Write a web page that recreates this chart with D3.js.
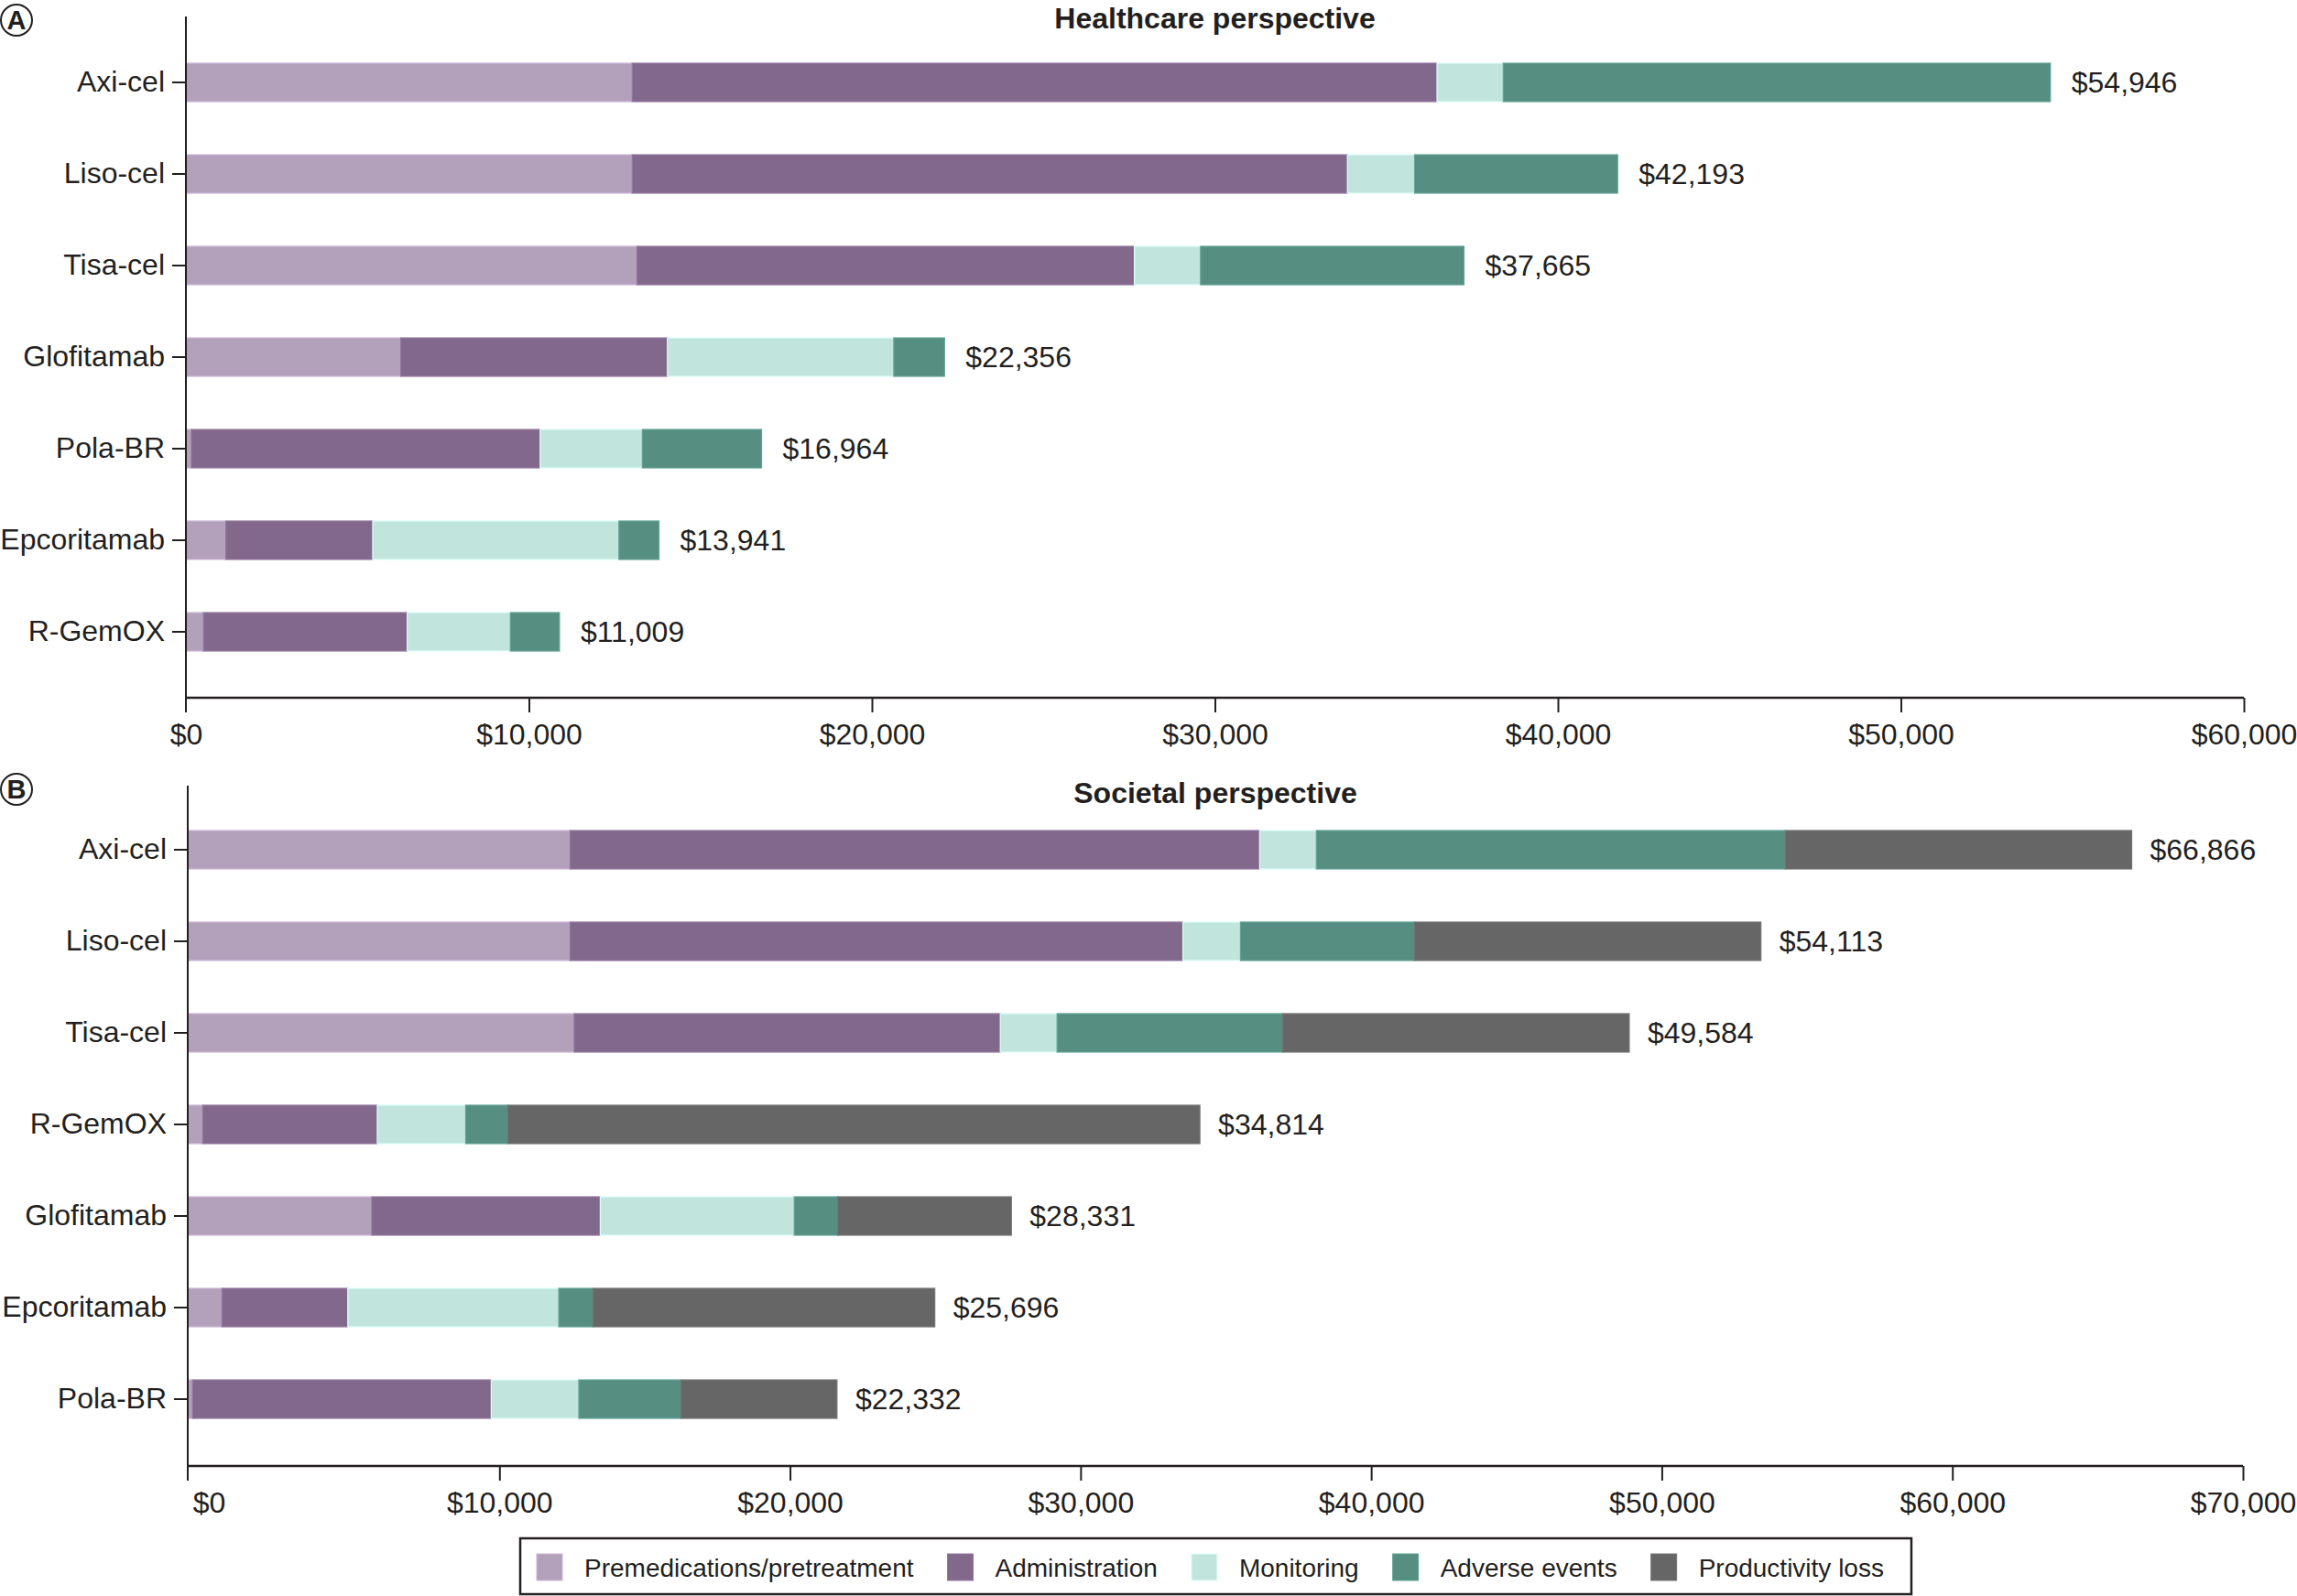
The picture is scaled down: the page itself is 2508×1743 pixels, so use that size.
<!DOCTYPE html>
<html><head><meta charset="utf-8">
<script src="https://cdn.jsdelivr.net/npm/d3@7"></script>
<style>
body{margin:0;background:#fff}
svg{display:block}
text{font-family:"Liberation Sans",Arial,Helvetica,sans-serif;fill:#231f20}
</style>
</head><body>
<svg id="chart" width="2508" height="1743"></svg>
<script>
// ---------- data ----------
const drugs = ["Axi-cel","Liso-cel","Tisa-cel","Glofitamab","Pola-BR","Epcoritamab","R-GemOX"];
const premedications = [13150,13150,13290,6330,160,1175,515];
const administration = [23720,21080,14660,7860,10280,4330,6005];
const monitoring = [1950,1980,1950,6670,3010,7255,3040];
const adverseEvents = [16126,5983,7765,1496,3514,1181,1449];
const productivityLoss = [11920,11920,11919,5975,5368,11755,23805];
const healthcareTotalLabels = ["$54,946","$42,193","$37,665","$22,356","$16,964","$13,941","$11,009"];
const societalTotalLabels = ["$66,866","$54,113","$49,584","$28,331","$22,332","$25,696","$34,814"];
const healthcareOrder = ["Axi-cel","Liso-cel","Tisa-cel","Glofitamab","Pola-BR","Epcoritamab","R-GemOX"];
const societalOrder = ["Axi-cel","Liso-cel","Tisa-cel","R-GemOX","Glofitamab","Epcoritamab","Pola-BR"];
const seriesNames = ["Premedications/pretreatment","Administration","Monitoring","Adverse events","Productivity loss"];
const seriesColors = ["#b3a1bc","#82698c","#c1e4dc","#568f82","#656665"];
const healthcareTicks = [0,10000,20000,30000,40000,50000,60000];
const societalTicks = [0,10000,20000,30000,40000,50000,60000,70000];

// ---------- build rows ----------
const rows = drugs.map((d,i)=>({
  drug:d,
  "Premedications/pretreatment":premedications[i],
  "Administration":administration[i],
  "Monitoring":monitoring[i],
  "Adverse events":adverseEvents[i],
  "Productivity loss":productivityLoss[i],
  hcLabel:healthcareTotalLabels[i],
  socLabel:societalTotalLabels[i]
}));
const byDrug = new Map(rows.map(r=>[r.drug,r]));
const color = d3.scaleOrdinal().domain(seriesNames).range(seriesColors);
const fmt = d => "$" + d3.format(",")(d);

const svg = d3.select("#chart");
const INK = "#231f20";

function drawPanel(cfg){
  const g = svg.append("g");
  const data = cfg.order.map(d=>byDrug.get(d));
  const keys = cfg.keys;
  const stacked = d3.stack().keys(keys)(data);

  const xBar = d3.scaleLinear().domain([0, d3.max(cfg.ticks)]).range(cfg.barRange);
  const xAxisScale = d3.scaleLinear().domain([0, d3.max(cfg.ticks)]).range(cfg.axisRange);
  const y = d3.scaleBand().domain(cfg.order).range(cfg.yRange).paddingInner(0.58).paddingOuter(0.29);

  // bars
  g.selectAll("g.series").data(stacked).join("g")
    .attr("class","series")
    .attr("fill", s=>color(s.key))
    .attr("stroke", s=>d3.color(color(s.key)).brighter(0.35))
    .attr("stroke-width",1.2)
    .selectAll("rect").data(s=>s).join("rect")
      .attr("x", d=>xBar(d[0]))
      .attr("width", d=>Math.max(0, xBar(d[1])-xBar(d[0])))
      .attr("y", d=>y(d.data.drug))
      .attr("height", y.bandwidth());

  // total labels
  const last = stacked[stacked.length-1];
  g.selectAll("text.total").data(last).join("text")
    .attr("class","total")
    .attr("x", d=>xBar(d[1]) + cfg.labelGap)
    .attr("y", d=>y(d.data.drug)+y.bandwidth()/2)
    .attr("dy","0.35em")
    .style("font-size","32px")
    .text(d=>d.data[cfg.labelKey]);

  // x axis
  const axisY = cfg.axisY;
  const xAxis = g.append("g").attr("transform",`translate(0,${axisY})`)
    .call(d3.axisBottom(xAxisScale).tickValues(cfg.ticks).tickFormat(fmt)
      .tickSize(16).tickSizeOuter(0).tickPadding(12));
  xAxis.select(".domain").remove();
  xAxis.selectAll(".tick line").attr("stroke",INK).attr("stroke-width",2)
    .filter(d=>d===0).remove();
  xAxis.selectAll(".tick text").style("font-size","32px").attr("fill",INK);
  g.append("line").attr("x1",cfg.barRange[0]).attr("x2",cfg.axisRange[1])
    .attr("y1",axisY).attr("y2",axisY).attr("stroke",INK).attr("stroke-width",2.5);

  // y axis
  const yAxis = g.append("g").attr("transform",`translate(${cfg.barRange[0]},0)`)
    .call(d3.axisLeft(y).tickSize(15).tickPadding(8));
  yAxis.select(".domain").remove();
  yAxis.selectAll(".tick line").attr("stroke",INK).attr("stroke-width",2);
  yAxis.selectAll(".tick text").style("font-size","32px").attr("fill",INK);
  g.append("line").attr("x1",cfg.barRange[0]).attr("x2",cfg.barRange[0])
    .attr("y1",cfg.yTop).attr("y2",axisY+16).attr("stroke",INK).attr("stroke-width",2);

  // title
  g.append("text").attr("x",(cfg.barRange[0]+cfg.axisRange[1])/2).attr("y",cfg.titleY)
    .attr("text-anchor","middle").style("font-size","32px").style("font-weight","bold")
    .text(cfg.title);

  // panel letter
  g.append("circle").attr("cx",cfg.letterPos[0]).attr("cy",cfg.letterPos[1]).attr("r",17)
    .attr("fill","none").attr("stroke",INK).attr("stroke-width",2);
  g.append("text").attr("x",cfg.letterPos[0]).attr("y",cfg.letterPos[1]).attr("dy","0.36em")
    .attr("text-anchor","middle").style("font-size","29px").style("font-weight","bold")
    .text(cfg.letter);
}

drawPanel({
  order: healthcareOrder,
  keys: seriesNames.slice(0,4),
  ticks: healthcareTicks,
  labelKey: "hcLabel",
  barRange: [203, 2426],
  axisRange: [203, 2450],
  yRange: [40, 740],
  yTop: 18,
  axisY: 762,
  labelGap: 23,
  title: "Healthcare perspective",
  titleY: 31,
  letter: "A",
  letterPos: [18, 22]
});

drawPanel({
  order: societalOrder,
  keys: seriesNames,
  ticks: societalTicks,
  labelKey: "socLabel",
  barRange: [205, 2427],
  axisRange: [228, 2449],
  yRange: [878, 1578],
  yTop: 858,
  axisY: 1601,
  labelGap: 20,
  title: "Societal perspective",
  titleY: 877,
  letter: "B",
  letterPos: [18, 862]
});

// ---------- legend ----------
const leg = svg.append("g");
const legBox = leg.append("rect").attr("x",568).attr("y",1680).attr("height",61)
  .attr("fill","#fff").attr("stroke",INK).attr("stroke-width",2.5);
let lx = 586;
const legGap = 37;
seriesNames.forEach(name=>{
  leg.append("rect").attr("x",lx).attr("y",1697).attr("width",28).attr("height",29)
    .attr("fill",color(name)).attr("stroke",d3.color(color(name)).brighter(0.35)).attr("stroke-width",1);
  const t = leg.append("text").attr("x",lx+52).attr("y",1712).attr("dy","0.35em")
    .style("font-size","28px").text(name);
  const w = t.node().getComputedTextLength();
  lx = lx + 52 + w + legGap;
});
legBox.attr("width", lx - legGap + 30 - 568);
</script>
</body></html>
